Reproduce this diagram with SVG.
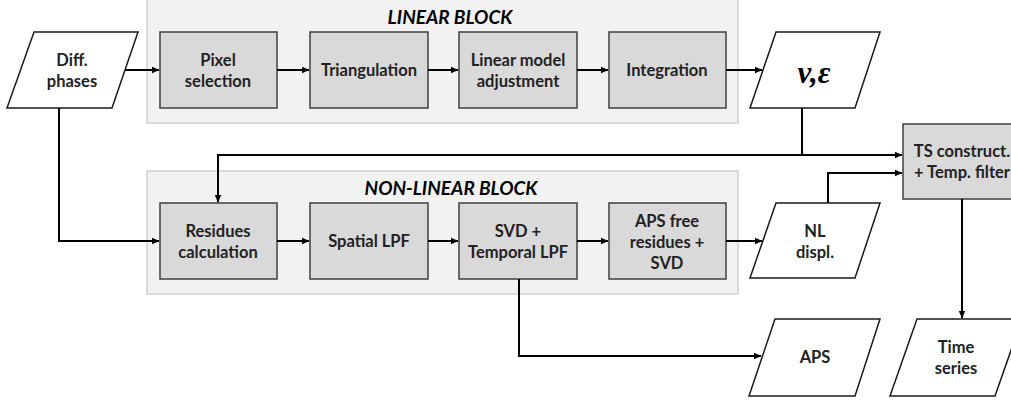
<svg xmlns="http://www.w3.org/2000/svg" width="1011" height="401" viewBox="0 0 1011 401">
<defs>
<marker id="ah" markerWidth="8" markerHeight="8" refX="7" refY="4" orient="auto" markerUnits="userSpaceOnUse">
<path d="M0,0.8 L7.5,4 L0,7.2 Z" fill="#000"/>
</marker>
<style>
.panel{fill:#f2f2f2;stroke:#d0d0d0;stroke-width:1.5}
.box{fill:#d9d9d9;stroke:#3f3f3f;stroke-width:1.5}
.io{fill:#fff;stroke:#1a1a1a;stroke-width:1.5}
.t{font-family:Lato,"Liberation Sans",sans-serif;font-weight:bold;font-size:16.5px;fill:#222;text-anchor:middle}
.title{font-family:Lato,"Liberation Sans",sans-serif;font-weight:bold;font-style:italic;font-size:19px;fill:#000;text-anchor:middle}
.c{fill:none;stroke:#000;stroke-width:2}
</style>
</defs>
<g id="linear-block">
<rect class="panel" x="147" y="-1" width="591" height="124"/>
<text class="title" x="450" y="24">LINEAR BLOCK</text>
</g>
<g id="nonlinear-block">
<rect class="panel" x="147" y="171" width="591" height="123"/>
<text class="title" x="451" y="195">NON-LINEAR BLOCK</text>
</g>
<g id="diff-phases">
<polygon class="io" points="34,32 138,32 112,108 7,108"/>
<text class="t" x="72" y="66">Diff.</text>
<text class="t" x="72" y="87">phases</text>
</g>
<g id="pixel-selection">
<rect class="box" x="160" y="32" width="117" height="76"/>
<text class="t" x="218" y="66">Pixel</text>
<text class="t" x="218" y="87">selection</text>
</g>
<g id="triangulation">
<rect class="box" x="310" y="32" width="118" height="76"/>
<text class="t" x="369" y="76">Triangulation</text>
</g>
<g id="linear-model">
<rect class="box" x="459" y="32" width="118" height="76"/>
<text class="t" x="518" y="66">Linear model</text>
<text class="t" x="518" y="87">adjustment</text>
</g>
<g id="integration">
<rect class="box" x="609" y="32" width="117" height="76"/>
<text class="t" x="667" y="76">Integration</text>
</g>
<g id="v-eps">
<polygon class="io" points="776,32 880,32 855,108 750,108"/>
<text x="814" y="83" style="font-family:'Liberation Serif',serif;font-weight:bold;font-style:italic;font-size:31px;fill:#000;text-anchor:middle">v,ε</text>
</g>
<g id="ts-construct">
<rect class="box" x="903" y="124" width="118" height="75"/>
<text class="t" x="962" y="157">TS construct.</text>
<text class="t" x="962" y="178">+ Temp. filter</text>
</g>
<g id="residues">
<rect class="box" x="160" y="203" width="117" height="76"/>
<text class="t" x="218" y="237">Residues</text>
<text class="t" x="218" y="258">calculation</text>
</g>
<g id="spatial-lpf">
<rect class="box" x="310" y="203" width="118" height="76"/>
<text class="t" x="369" y="247">Spatial LPF</text>
</g>
<g id="svd-temporal">
<rect class="box" x="459" y="203" width="118" height="76"/>
<text class="t" x="518" y="237">SVD +</text>
<text class="t" x="518" y="258">Temporal LPF</text>
</g>
<g id="aps-free">
<rect class="box" x="609" y="203" width="117" height="76"/>
<text class="t" x="667" y="227">APS free</text>
<text class="t" x="667" y="248">residues +</text>
<text class="t" x="667" y="269">SVD</text>
</g>
<g id="nl-displ">
<polygon class="io" points="776,203 880,203 855,278 750,278"/>
<text class="t" x="815" y="237">NL</text>
<text class="t" x="815" y="258">displ.</text>
</g>
<g id="aps">
<polygon class="io" points="775,319 880,319 855,396 749,396"/>
<text class="t" x="815" y="363">APS</text>
</g>
<g id="time-series">
<polygon class="io" points="917,319 1022,319 995,396 890,396"/>
<text class="t" x="956" y="353">Time</text>
<text class="t" x="956" y="374">series</text>
</g>
<g id="connectors">
<line class="c" x1="125" y1="70" x2="159" y2="70" marker-end="url(#ah)"/>
<line class="c" x1="277" y1="70" x2="309" y2="70" marker-end="url(#ah)"/>
<line class="c" x1="428" y1="70" x2="458" y2="70" marker-end="url(#ah)"/>
<line class="c" x1="577" y1="70" x2="608" y2="70" marker-end="url(#ah)"/>
<line class="c" x1="726" y1="70" x2="762" y2="70" marker-end="url(#ah)"/>
<polyline class="c" points="802,108 802,155 902,155" marker-end="url(#ah)"/>
<polyline class="c" points="802,155 218,155 218,202" marker-end="url(#ah)"/>
<polyline class="c" points="59,108 59,241 159,241" marker-end="url(#ah)"/>
<line class="c" x1="277" y1="241" x2="309" y2="241" marker-end="url(#ah)"/>
<line class="c" x1="428" y1="241" x2="458" y2="241" marker-end="url(#ah)"/>
<line class="c" x1="577" y1="241" x2="608" y2="241" marker-end="url(#ah)"/>
<line class="c" x1="726" y1="241" x2="762" y2="241" marker-end="url(#ah)"/>
<polyline class="c" points="828,203 828,173 902,173" marker-end="url(#ah)"/>
<polyline class="c" points="519,279 519,356 761,356" marker-end="url(#ah)"/>
<line class="c" x1="962" y1="199" x2="962" y2="318" marker-end="url(#ah)"/>
</g>
</svg>
